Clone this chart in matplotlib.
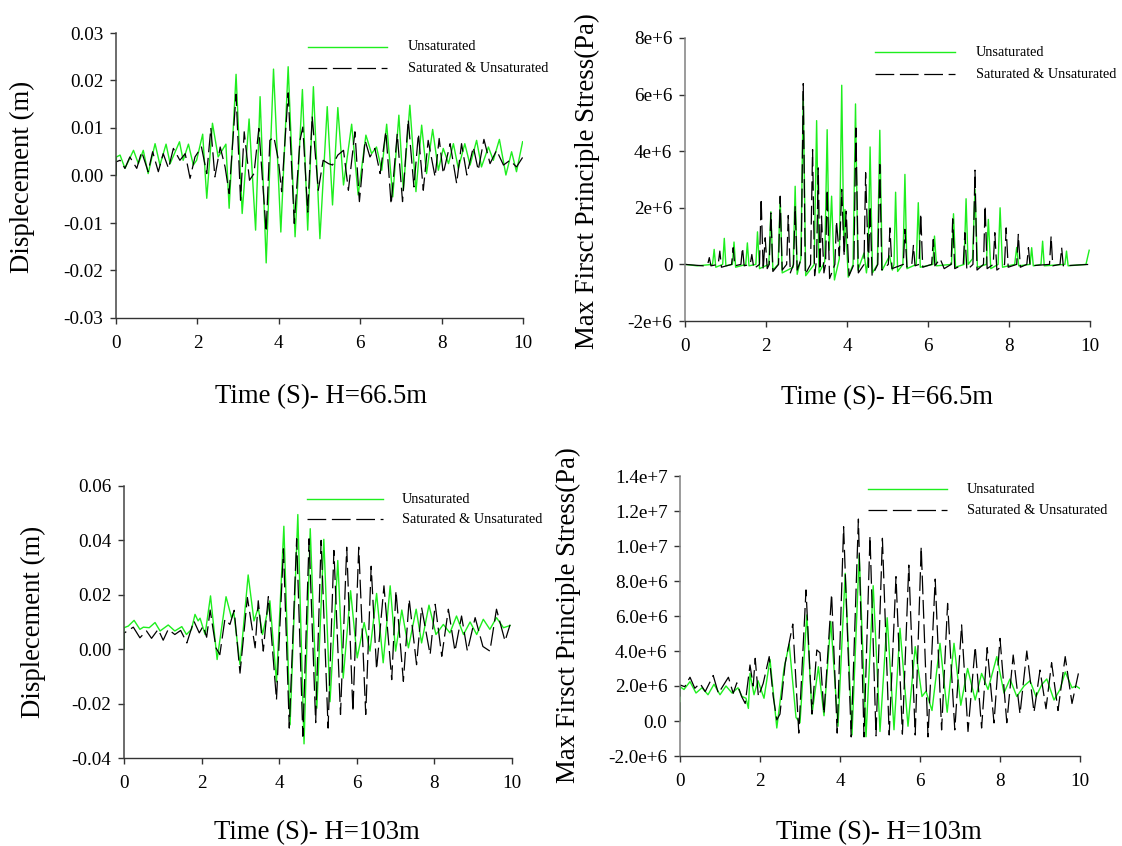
import matplotlib
matplotlib.use("Agg")
import matplotlib.pyplot as plt
from matplotlib.lines import Line2D
from matplotlib.ticker import FixedLocator, FixedFormatter

plt.rcParams['font.family'] = ['Liberation Serif', 'DejaVu Serif']

W, H = 1122, 846

# ---------------- data (time s, value) ----------------
time_ticks = [0, 2, 4, 6, 8, 10]
time_ticklabels = ['0', '2', '4', '6', '8', '10']

# Top-left: displacement (m), H=66.5m
disp665_unsat = [(0, 0), (0.01, 0.0039), (0.10, 0.0043), (0.22, 0.0015), (0.43, 0.0053), (0.55, 0.0025), (0.67, 0.0053),
    (0.79, 0.0004), (0.96, 0.0067), (1.08, 0.0022), (1.23, 0.0066), (1.33, 0.0025), (1.56, 0.0071), (1.65, 0.0032),
    (1.78, 0.0066), (1.90, 0.0022), (1.98, 0.0032), (2.13, 0.0087), (2.23, -0.0048), (2.37, 0.0110), (2.51, 0.0039),
    (2.70, 0.0066), (2.78, -0.0069), (2.95, 0.0213), (3.10, -0.0080), (3.27, 0.0119), (3.43, -0.0115), (3.54, 0.0166),
    (3.69, -0.0184), (3.87, 0.0224), (4.05, -0.0119), (4.23, 0.0229), (4.40, -0.0129), (4.58, 0.0181), (4.71, -0.0115),
    (4.85, 0.0187), (5.01, -0.0133), (5.19, 0.0145), (5.32, -0.0062), (5.45, 0.0143), (5.59, -0.0020), (5.79, 0.0108),
    (5.95, -0.0041), (6.14, 0.0085), (6.28, 0.0046), (6.40, 0.0060), (6.53, 0.0011), (6.65, 0.0108), (6.80, -0.0045),
    (6.95, 0.0127), (7.06, -0.0031), (7.22, 0.0148), (7.37, -0.0034), (7.51, 0.0106), (7.63, 0.0004), (7.78, 0.0097),
    (7.92, 0.0011), (8.04, 0.0057), (8.17, 0.0025), (8.29, 0.0067), (8.41, 0.0015), (8.57, 0.0067), (8.70, 0.0022),
    (8.86, 0.0074), (8.98, 0.0018), (9.15, 0.0060), (9.27, 0.0032), (9.42, 0.0076), (9.58, 0.0001), (9.72, 0.0050),
    (9.84, 0.0008), (9.99, 0.0071)]
disp665_sat = [(0, 0), (0.01, 0.0029), (0.10, 0.0032), (0.22, 0.0015), (0.34, 0.0039), (0.51, 0.0015), (0.63, 0.0050),
    (0.79, 0.0008), (0.90, 0.0050), (1.04, 0.0008), (1.16, 0.0046), (1.29, 0.0015), (1.41, 0.0057), (1.57, 0.0032),
    (1.70, 0.0046), (1.82, -0.0006), (1.94, 0.0039), (2.10, 0.0060), (2.23, 0.0004), (2.33, 0.0100), (2.43, -0.0003),
    (2.56, 0.0060), (2.68, 0.0018), (2.78, -0.0038), (2.95, 0.0171), (3.06, -0.0052), (3.15, 0.0092), (3.28, -0.0010),
    (3.39, 0.0004), (3.51, 0.0099), (3.69, -0.0119), (3.78, 0.0074), (3.88, 0.0081), (3.99, 0.0032), (4.07, -0.0034),
    (4.23, 0.0174), (4.38, -0.0101), (4.52, 0.0074), (4.59, 0.0102), (4.71, -0.0077), (4.82, 0.0125), (4.97, -0.0031),
    (5.09, 0.0032), (5.22, 0.0025), (5.32, 0.0022), (5.45, 0.0043), (5.59, 0.0053), (5.71, -0.0031), (5.87, 0.0092),
    (5.98, -0.0055), (6.12, 0.0074), (6.24, 0.0039), (6.36, 0.0057), (6.49, 0.0004), (6.63, 0.0093), (6.76, -0.0061),
    (6.91, 0.0088), (7.04, -0.0055), (7.18, 0.0118), (7.32, -0.0024), (7.43, 0.0088), (7.55, -0.0031), (7.67, 0.0074),
    (7.84, -0.0003), (7.94, 0.0078), (8.04, 0.0004), (8.21, 0.0067), (8.37, -0.0017), (8.49, 0.0067), (8.62, 0.0001),
    (8.78, 0.0060), (8.90, 0.0011), (9.04, 0.0076), (9.19, 0.0025), (9.35, 0.0053), (9.52, 0.0022), (9.68, 0.0032),
    (9.84, 0.0018), (9.99, 0.0038)]

# Top-right: max first principal stress (x1e6 Pa), H=66.5m
stress665_unsat = [(0, 0), (0.3, -0.05), (0.68, 0.0), (0.72, 0.53), (0.76, -0.1), (0.93, 0.0), (0.97, 0.92), (1.01, -0.05),
    (1.17, 0.0), (1.21, 0.79), (1.25, -0.1), (1.50, 0.0), (1.54, 0.76), (1.58, -0.05), (1.75, 0.0), (1.79, 1.15),
    (1.84, -0.15), (2.07, 0.0), (2.12, 1.86), (2.17, -0.2), (2.30, 0.0), (2.35, 2.35), (2.40, -0.3), (2.67, -0.1),
    (2.72, 2.76), (2.77, -0.35), (2.86, 0.2), (2.92, 6.0), (2.98, -0.4), (3.19, 0.0), (3.25, 5.08), (3.31, -0.3),
    (3.45, 0.1), (3.51, 4.76), (3.56, 0.5), (3.62, 2.41), (3.69, -0.55), (3.81, 0.2), (3.87, 6.33), (3.92, 0.8),
    (3.95, 1.94), (4.03, -0.45), (4.15, 0.0), (4.21, 5.67), (4.27, -0.2), (4.42, 0.4), (4.48, -0.3), (4.52, 0.2),
    (4.57, 4.15), (4.63, -0.3), (4.75, 0.0), (4.81, 4.74), (4.87, -0.2), (5.05, 0.3), (5.12, -0.2), (5.16, 0.0),
    (5.20, 2.55), (5.25, -0.25), (5.38, 0.0), (5.43, 3.18), (5.48, -0.15), (5.71, 0.0), (5.76, 2.18), (5.81, -0.1),
    (6.12, 0.0), (6.16, 1.0), (6.21, -0.05), (6.58, 0.0), (6.63, 1.79), (6.68, -0.1), (6.89, 0.0), (6.94, 2.32),
    (6.99, 0.0), (7.10, 0.2), (7.16, 2.65), (7.22, -0.1), (7.44, 0.0), (7.49, 1.59), (7.55, -0.15), (7.73, 0.0),
    (7.78, 2.0), (7.84, -0.1), (8.14, 0.0), (8.19, 0.6), (8.24, -0.05), (8.52, 0.0), (8.56, 0.59), (8.60, -0.05),
    (8.79, 0.0), (8.83, 0.82), (8.87, -0.05), (9.38, 0.0), (9.42, 0.47), (9.46, -0.05), (9.90, 0.0), (9.98, 0.5)]
stress665_sat = [(0, 0), (0.45, -0.05), (0.56, 0.0), (0.60, 0.24), (0.64, -0.05), (0.82, 0.0), (0.86, 0.47), (0.90, -0.1),
    (1.15, 0.0), (1.19, 0.59), (1.23, -0.05), (1.38, 0.0), (1.42, 0.59), (1.46, -0.05), (1.61, 0.0), (1.65, 0.35),
    (1.70, -0.15), (1.84, 0.0), (1.88, 2.33), (1.93, -0.2), (1.98, 0.94), (2.03, -0.15), (2.08, 0.0), (2.12, 1.82),
    (2.17, -0.25), (2.31, 0.0), (2.35, 2.41), (2.40, -0.2), (2.51, 0.0), (2.55, 1.73), (2.60, -0.3), (2.68, 0.0),
    (2.72, 2.06), (2.77, -0.2), (2.87, 0.2), (2.92, 6.39), (2.97, -0.35), (3.10, 0.0), (3.15, 4.06), (3.20, -0.4),
    (3.25, 0.2), (3.29, 3.41), (3.33, -0.2), (3.37, 1.71), (3.43, -0.3), (3.47, 0.0), (3.51, 2.65), (3.57, -0.5),
    (3.70, 0.0), (3.74, 1.53), (3.81, 0.3), (3.87, 2.65), (3.93, 0.3), (3.98, 1.88), (4.05, -0.4), (4.17, 0.0),
    (4.22, 4.82), (4.28, -0.3), (4.42, 0.0), (4.46, 3.24), (4.53, -0.1), (4.57, 2.06), (4.62, -0.4), (4.76, 0.0),
    (4.81, 3.53), (4.86, -0.2), (5.02, 0.0), (5.06, 1.29), (5.11, -0.15), (5.39, 0.0), (5.43, 1.24), (5.48, -0.1),
    (5.60, 0.0), (5.64, 0.67), (5.68, -0.05), (5.78, 0.0), (5.82, 1.8), (5.87, -0.1), (6.09, 0.0), (6.13, 0.88),
    (6.17, -0.05), (6.30, 0.2), (6.40, -0.15), (6.57, 0.0), (6.61, 1.61), (6.66, -0.15), (6.87, 0.0), (6.91, 1.12),
    (6.96, -0.2), (7.11, 0.0), (7.16, 3.33), (7.21, -0.2), (7.37, 0.0), (7.41, 2.08), (7.46, -0.15), (7.61, 0.0),
    (7.65, 1.12), (7.70, -0.2), (7.89, 0.0), (7.93, 1.29), (7.98, -0.1), (8.19, 0.0), (8.23, 1.06), (8.28, -0.1),
    (8.44, 0.0), (8.48, 0.59), (8.52, -0.05), (9.00, 0.0), (9.04, 1.0), (9.08, -0.05), (9.26, 0.0), (9.30, 0.59),
    (9.34, -0.05), (9.98, 0.0)]

# Bottom-left: displacement (m), H=103m
disp103_unsat = [(0, 0), (0.0, 0.0079), (0.11, 0.0085), (0.26, 0.0106), (0.41, 0.0073), (0.50, 0.0081), (0.65, 0.0079),
    (0.80, 0.0098), (0.93, 0.0067), (1.14, 0.0089), (1.31, 0.0067), (1.49, 0.0083), (1.61, 0.0054), (1.74, 0.0073),
    (1.83, 0.0128), (1.91, 0.0104), (1.96, 0.0114), (2.09, 0.0054), (2.23, 0.0196), (2.40, -0.0038), (2.63, 0.0193),
    (2.77, 0.0116), (2.83, 0.0135), (2.99, -0.0057), (3.20, 0.0273), (3.35, 0.0104), (3.46, 0.0153), (3.57, 0.0054),
    (3.76, 0.0178), (3.93, -0.0120), (4.12, 0.0452), (4.28, -0.0278), (4.48, 0.0495), (4.64, -0.0348), (4.80, 0.0443),
    (4.97, -0.0217), (5.15, 0.0404), (5.31, -0.0193), (5.51, 0.0326), (5.65, -0.0106), (5.84, 0.0215), (6.01, -0.0032),
    (6.19, 0.0098), (6.34, -0.0007), (6.51, 0.0205), (6.68, -0.0050), (6.86, 0.0233), (7.00, -0.0007), (7.16, 0.0144),
    (7.33, 0.0005), (7.53, 0.0147), (7.67, 0.0023), (7.86, 0.0162), (8.04, 0.0054), (8.23, 0.0091), (8.40, 0.0060),
    (8.57, 0.0122), (8.75, 0.0054), (8.92, 0.0100), (9.09, 0.0054), (9.26, 0.0110), (9.43, 0.0073), (9.60, 0.0116),
    (9.78, 0.0079), (9.95, 0.0087)]
disp103_sat = [(0, 0), (0.0, 0.0059), (0.24, 0.0081), (0.41, 0.0042), (0.58, 0.0067), (0.71, 0.0040), (0.88, 0.0073),
    (1.01, 0.0033), (1.14, 0.0073), (1.31, 0.0054), (1.46, 0.0069), (1.62, 0.0023), (1.80, 0.0104), (1.94, 0.0060),
    (2.04, 0.0085), (2.13, 0.0044), (2.22, 0.0144), (2.37, 0.0005), (2.47, -0.0020), (2.60, 0.0110), (2.73, 0.0091),
    (2.84, 0.0143), (2.99, -0.0088), (3.18, 0.0190), (3.38, 0.0005), (3.46, 0.0178), (3.59, -0.0007), (3.72, 0.0193),
    (3.93, -0.0186), (4.11, 0.0369), (4.26, -0.0290), (4.45, 0.0406), (4.61, -0.0320), (4.77, 0.0406), (4.94, -0.0270),
    (5.08, 0.0400), (5.26, -0.0290), (5.41, 0.0363), (5.58, -0.0240), (5.74, 0.0375), (5.90, -0.0230), (6.05, 0.0375),
    (6.23, -0.0240), (6.37, 0.0305), (6.51, -0.0075), (6.70, 0.0233), (6.90, -0.0112), (7.01, 0.0215), (7.20, -0.0118),
    (7.35, 0.0184), (7.54, -0.0057), (7.67, 0.0153), (7.89, -0.0020), (8.02, 0.0165), (8.19, -0.0026), (8.36, 0.0147),
    (8.53, -0.0007), (8.70, 0.0122), (8.85, -0.0007), (9.05, 0.0116), (9.25, 0.0010), (9.43, -0.0007), (9.60, 0.0147),
    (9.82, 0.0030), (9.95, 0.0090)]

# Bottom-right: max first principal stress (x1e6 Pa), H=103m
stress103_unsat = [(0, 0), (0.0, 1.96), (0.1, 1.8), (0.25, 2.25), (0.4, 1.6), (0.55, 1.9), (0.7, 1.5), (0.85, 2.1),
    (1.0, 1.5), (1.15, 2.0), (1.3, 1.6), (1.45, 1.9), (1.55, 1.4), (1.65, 1.3), (1.71, 0.72), (1.75, 2.72), (1.85, 1.5),
    (1.95, 2.3), (2.1, 1.3), (2.25, 3.52), (2.42, -0.4), (2.55, 2.0), (2.6, 3.0), (2.73, 4.4), (2.9, 0.2), (3.0, -0.1),
    (3.17, 6.06), (3.3, 0.4), (3.46, 3.1), (3.6, 0.3), (3.77, 5.68), (3.95, -0.3), (4.13, 8.44), (4.3, -0.8),
    (4.48, 9.49), (4.65, -0.9), (4.83, 7.73), (5.0, -0.6), (5.18, 5.9), (5.35, -0.5), (5.5, 5.3), (5.7, -0.3),
    (5.88, 4.25), (6.05, 1.4), (6.15, 1.7), (6.3, 0.6), (6.5, 4.44), (6.68, 0.5), (6.85, 4.44), (7.02, 0.9),
    (7.19, 3.0), (7.38, 1.2), (7.54, 2.72), (7.7, 1.8), (7.92, 3.68), (8.1, 1.6), (8.25, 2.4), (8.42, 1.4), (8.6, 2.0),
    (8.75, 2.3), (8.9, 1.4), (9.05, 2.1), (9.17, 2.4), (9.35, 1.2), (9.5, 1.8), (9.63, 2.8), (9.8, 1.9), (9.9, 2.0),
    (10.0, 1.85)]
stress103_sat = [(0, 0), (0.0, 2.06), (0.12, 1.96), (0.25, 2.5), (0.37, 1.87), (0.5, 2.15), (0.63, 1.68), (0.83, 2.6),
    (0.96, 1.58), (1.21, 2.5), (1.33, 1.58), (1.42, 2.18), (1.54, 1.4), (1.63, 1.0), (1.75, 3.2), (1.83, 2.0),
    (1.88, 3.58), (1.96, 1.4), (2.08, 2.15), (2.23, 3.68), (2.33, 1.4), (2.42, 0.06), (2.5, 0.4), (2.63, 3.3),
    (2.82, 5.54), (2.97, -0.69), (3.15, 7.49), (3.3, 0.4), (3.42, 4.06), (3.5, 3.9), (3.6, 0.4), (3.79, 7.26),
    (3.93, -0.69), (4.09, 11.1), (4.28, -0.91), (4.46, 11.54), (4.6, -0.91), (4.75, 10.57), (4.9, -0.85), (5.06, 10.44),
    (5.23, -0.8), (5.4, 8.25), (5.56, -0.75), (5.72, 8.91), (5.88, -0.8), (6.03, 9.96), (6.2, -0.91), (6.38, 8.11),
    (6.54, -0.51), (6.69, 6.72), (6.87, -0.51), (7.04, 5.49), (7.2, -0.6), (7.38, 4.25), (7.54, -0.4), (7.68, 4.19),
    (7.85, -0.11), (8.0, 4.72), (8.17, -0.1), (8.33, 3.77), (8.5, 0.4), (8.67, 4.0), (8.85, 0.5), (9.0, 2.91),
    (9.15, 0.7), (9.29, 3.33), (9.45, 0.6), (9.63, 3.68), (9.8, 1.0), (9.96, 2.72)]

disp665_ticks = [-0.03, -0.02, -0.01, 0.0, 0.01, 0.02, 0.03]
disp665_labels = ['-0.03', '-0.02', '-0.01', '0.00', '0.01', '0.02', '0.03']
stress665_ticks = [-2, 0, 2, 4, 6, 8]
stress665_labels = ['-2e+6', '0', '2e+6', '4e+6', '6e+6', '8e+6']
disp103_ticks = [-0.04, -0.02, 0.0, 0.02, 0.04, 0.06]
disp103_labels = ['-0.04', '-0.02', '0.00', '0.02', '0.04', '0.06']
stress103_ticks = [-2, 0, 2, 4, 6, 8, 10, 12, 14]
stress103_labels = ['-2.0e+6', '0.0', '2.0e+6', '4.0e+6', '6.0e+6', '8.0e+6', '1.0e+7', '1.2e+7', '1.4e+7']

series_names = ['Unsaturated', 'Saturated & Unsaturated']
xlabel_665 = 'Time (S)- H=66.5m'
xlabel_103 = 'Time (S)- H=103m'
ylabel_disp = 'Displecement (m)'
ylabel_stress = 'Max Firsct Principle Stress(Pa)'

GREEN = '#1eee1e'
BLACK = '#000000'
DASH = (15, 4.5)

fig = plt.figure(figsize=(W / 100, H / 100), dpi=100)


def fx(x):
    return x / W


def fy(y):
    return 1 - y / H


def panel(box, unsat, sat, scale, yticks, ylabels, ylim, spine_col,
          xlabel, xlab_xy, ylabel, ylab_xy, leg):
    x0, y0, x1, y1 = box
    ax = fig.add_axes([fx(x0), fy(y1), (x1 - x0) / W, (y1 - y0) / H])
    tu = [p[0] for p in unsat]
    vu = [p[1] * scale for p in unsat]
    ts = [p[0] for p in sat]
    vs = [p[1] * scale for p in sat]
    ax.plot(tu, vu, color=GREEN, lw=1.0, solid_joinstyle='round')
    ax.plot(ts, vs, color=BLACK, lw=0.9, dashes=DASH)
    ax.set_xlim(0, 10)
    ax.set_ylim(ylim[0] * scale, ylim[1] * scale)
    ax.xaxis.set_major_locator(FixedLocator(time_ticks))
    ax.xaxis.set_major_formatter(FixedFormatter(time_ticklabels))
    ax.yaxis.set_major_locator(FixedLocator([t * scale for t in yticks]))
    ax.yaxis.set_major_formatter(FixedFormatter(ylabels))
    for s in ('top', 'right'):
        ax.spines[s].set_visible(False)
    ax.spines['left'].set_color(spine_col)
    ax.spines['bottom'].set_color('#333333')
    ax.spines['left'].set_linewidth(1.1)
    ax.spines['bottom'].set_linewidth(1.0)
    ax.tick_params(axis='both', direction='out', length=4, width=1.0, colors='#333333',
                   labelsize=13.8, labelcolor='black')
    ax.tick_params(axis='y', pad=5)
    ax.tick_params(axis='x', pad=8)
    ax.patch.set_alpha(0)
    fig.text(fx(xlab_xy[0]), fy(xlab_xy[1]), xlabel, fontsize=19.3, ha='center', va='center')
    fig.text(fx(ylab_xy[0]), fy(ylab_xy[1]), ylabel, fontsize=19.3, ha='center', va='center',
             rotation=90)
    lx0, lx1, ly1, ly2, tx = leg
    fig.add_artist(Line2D([fx(lx0), fx(lx1)], [fy(ly1), fy(ly1)], color=GREEN, lw=1.0,
                          transform=fig.transFigure))
    fig.add_artist(Line2D([fx(lx0), fx(lx1)], [fy(ly2), fy(ly2)], color=BLACK, lw=0.9,
                          dashes=DASH, transform=fig.transFigure))
    fig.text(fx(tx), fy(ly1), series_names[0], fontsize=10.3, ha='left', va='center')
    fig.text(fx(tx), fy(ly2), series_names[1], fontsize=10.3, ha='left', va='center')
    return ax


panel((116, 33, 523, 318), disp665_unsat, disp665_sat, 1.0, disp665_ticks, disp665_labels,
      (-0.03, 0.03), '#444444', xlabel_665, (321, 397), ylabel_disp, (22, 177),
      (308, 387, 47, 68, 408))
panel((685, 38, 1090, 321), stress665_unsat, stress665_sat, 1e6, stress665_ticks, stress665_labels,
      (-2, 8), '#808080', xlabel_665, (887, 398), ylabel_stress, (587, 181),
      (875, 955, 52, 74, 976))
panel((124, 486, 512, 758), disp103_unsat, disp103_sat, 1.0, disp103_ticks, disp103_labels,
      (-0.04, 0.06), '#444444', xlabel_103, (317, 833), ylabel_disp, (33, 622),
      (307, 383, 499, 519, 402))
panel((680, 476, 1080, 756), stress103_unsat, stress103_sat, 1e6, stress103_ticks, stress103_labels,
      (-2, 14), '#808080', xlabel_103, (879, 833), ylabel_stress, (568, 615),
      (868, 947, 489, 510, 967))

fig.savefig('out.png', dpi=100)
